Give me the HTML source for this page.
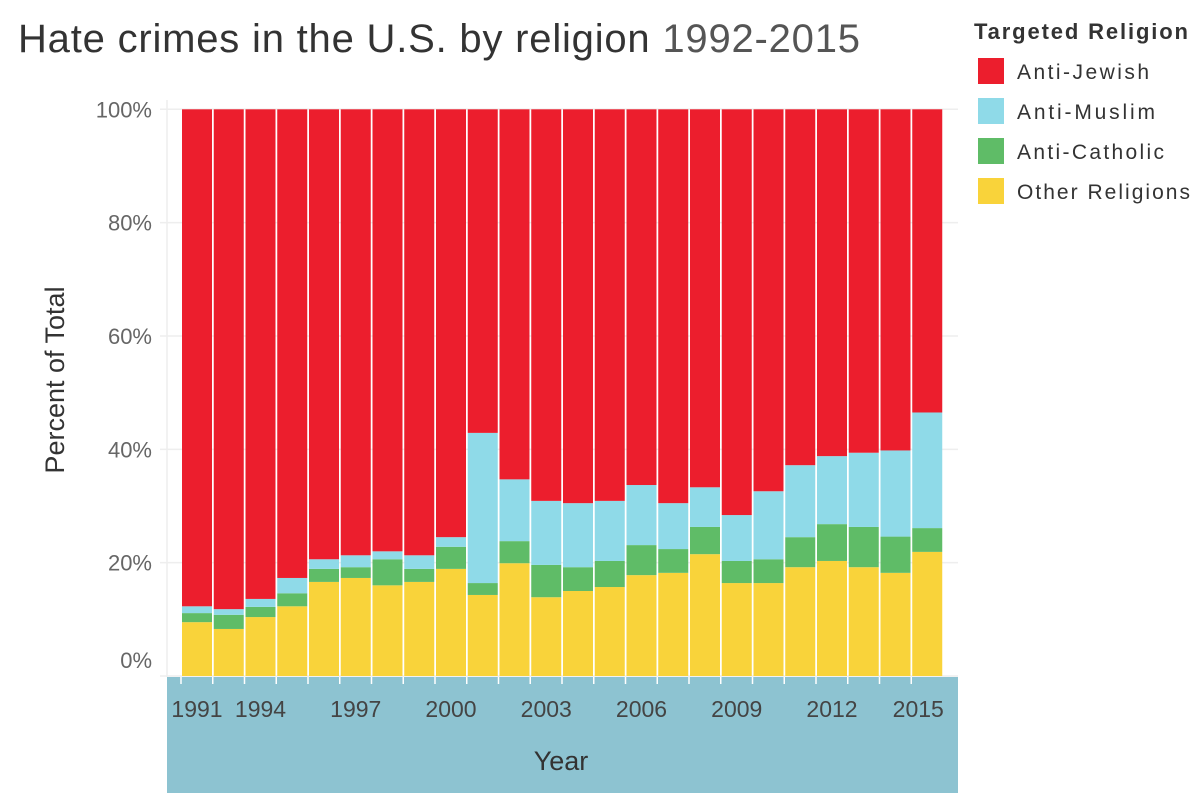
<!DOCTYPE html>
<html><head><meta charset="utf-8"><style>
body{margin:0;background:#fff;width:1200px;height:798px;overflow:hidden;font-family:"Liberation Sans","DejaVu Sans",sans-serif}
</style></head><body>
<svg id="chart" width="1200" height="798" xmlns="http://www.w3.org/2000/svg">
<text x="18" y="52" font-size="40" fill="#333" textLength="842" lengthAdjust="spacing">Hate crimes in the U.S. by religion <tspan fill="#555">1992-2015</tspan></text>
<g id="grid"></g>
<rect x="167" y="677" width="791" height="116" fill="#8dc3d1"/>
<g id="bars"></g>
<g id="ticks"></g>
<text transform="translate(64,380) rotate(-90)" text-anchor="middle" font-size="27" fill="#333">Percent of Total</text>
<text x="561" y="770" text-anchor="middle" font-size="27" fill="#333">Year</text>
<g>
<text x="974" y="39" font-size="22" font-weight="bold" fill="#333" textLength="214" lengthAdjust="spacing">Targeted Religion</text>
<g><rect x="978" y="58" width="26" height="26" fill="#ec1e2d"/><text x="1017" y="79" font-size="21" fill="#333" textLength="132">Anti-Jewish</text></g>
<g><rect x="978" y="98" width="26" height="26" fill="#8fdae8"/><text x="1017" y="119" font-size="21" fill="#333" textLength="138">Anti-Muslim</text></g>
<g><rect x="978" y="138" width="26" height="26" fill="#5fbc67"/><text x="1017" y="159" font-size="21" fill="#333" textLength="147">Anti-Catholic</text></g>
<g><rect x="978" y="178" width="26" height="26" fill="#f9d33a"/><text x="1017" y="199" font-size="21" fill="#333" textLength="173">Other Religions</text></g>
</g>
</svg>
<script>
const years=[1992,1993,1994,1995,1996,1997,1998,1999,2000,2001,2002,2003,2004,2005,2006,2007,2008,2009,2010,2011,2012,2013,2014,2015];
const other=[9.5,8.3,10.4,12.3,16.6,17.3,16.0,16.6,18.9,14.3,19.9,13.9,15.0,15.7,17.8,18.2,21.5,16.4,16.4,19.2,20.3,19.2,18.2,21.9];
const catholic=[1.6,2.5,1.8,2.3,2.3,1.9,4.6,2.3,3.9,2.1,3.9,5.7,4.2,4.6,5.3,4.2,4.8,3.9,4.2,5.3,6.5,7.1,6.4,4.2];
const muslim=[1.2,1.0,1.4,2.7,1.7,2.1,1.4,2.4,1.7,26.5,10.9,11.3,11.3,10.6,10.6,8.1,7.0,8.1,12.0,12.7,12.0,13.1,15.2,20.4];
const yTicks=[0,20,40,60,80,100];
const xTickLabels=["1991","1994","1997","2000","2003","2006","2009","2012","2015"];
const xTickIdx=[0,2,5,8,11,14,17,20,23];
const NS="http://www.w3.org/2000/svg";
const x0=182,pitch=31.75,bw=30;
function xs(i){return x0+i*pitch;}
function ys(v){return 676-v*5.667;}
function mk(t,a,p){const e=document.createElementNS(NS,t);for(const k in a)e.setAttribute(k,a[k]);p.appendChild(e);return e;}
const grid=document.getElementById('grid'),bars=document.getElementById('bars'),ticks=document.getElementById('ticks');
yTicks.forEach(v=>{
 const l=mk('line',{x1:160,x2:958,y1:ys(v),y2:ys(v),stroke:'#eee','stroke-width':1.5},grid);
 
 
 const t=mk('text',{x:152,y:ys(v)+(v===0?-8:8),'text-anchor':'end','font-size':22,fill:'#666'},grid);
 t.textContent=v+'%';
 
 
});
const ax=mk('line',{x1:167,x2:167,y1:100,y2:677,stroke:'#eee','stroke-width':1.5},grid);


years.forEach((y,i)=>{
 const segs=[[0,other[i],'#f9d33a','other'],[other[i],other[i]+catholic[i],'#5fbc67','catholic'],[other[i]+catholic[i],other[i]+catholic[i]+muslim[i],'#8fdae8','muslim'],[other[i]+catholic[i]+muslim[i],100,'#ec1e2d','jewish']];
 segs.forEach(s=>{
  const r=mk('rect',{x:xs(i),y:ys(s[1]),width:bw,height:ys(s[0])-ys(s[1]),fill:s[2]},bars);
  
  
 });
 const tk=mk('line',{x1:xs(i)-1,x2:xs(i)-1,y1:677,y2:684,stroke:'#fff','stroke-width':1.5},ticks);
 
 
});
xTickLabels.forEach((lab,k)=>{
 const i=xTickIdx[k];
 let cx=xs(i)+bw/2; if(k===xTickLabels.length-1)cx-=9;
 const t=mk('text',{x:cx,y:717,'text-anchor':'middle','font-size':23,fill:'#444'},ticks);
 t.textContent=lab;
 
 
});
</script>
</body></html>
